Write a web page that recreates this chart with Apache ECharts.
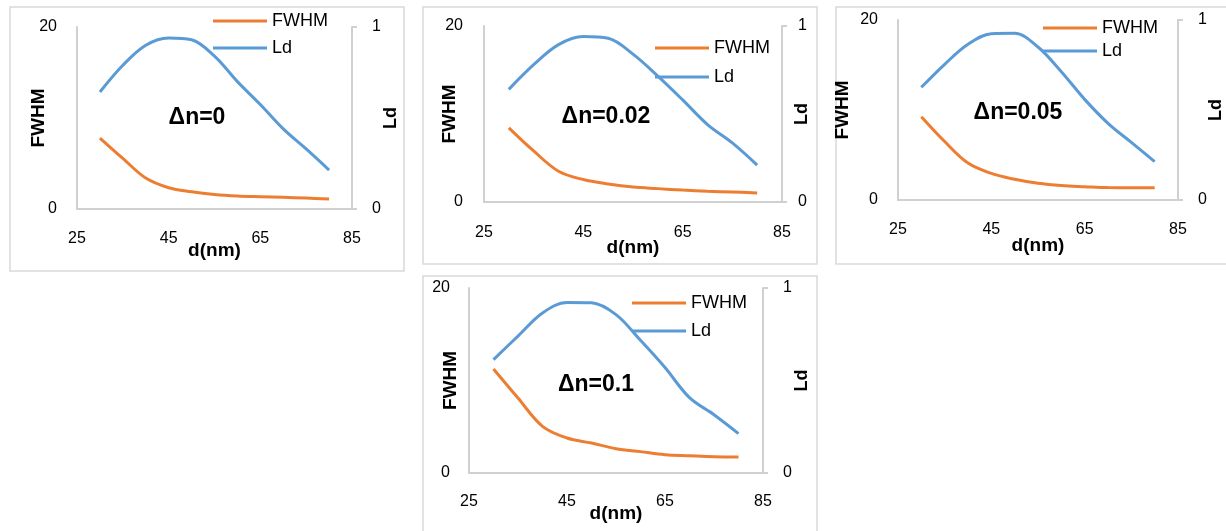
<!DOCTYPE html>
<html><head><meta charset="utf-8">
<script src="https://cdn.jsdelivr.net/npm/echarts@6/dist/echarts.min.js"></script>
<style>html,body{margin:0;padding:0;background:#fff}#c{width:1226px;height:531px}</style>
</head><body><div id="c"></div>
<script>
// ---- data ----
const dValues = [30, 35, 40, 45, 50, 55, 60, 65, 70, 75, 80];
const xTicks = [25, 45, 65, 85];
const panelLabels = ['Δn=0', 'Δn=0.02', 'Δn=0.05', 'Δn=0.1'];
const fwhm_dn0   = [7.8, 5.56, 3.4, 2.34, 1.9, 1.6, 1.43, 1.35, 1.28, 1.2, 1.1];
const ld_dn0     = [0.643, 0.79, 0.90, 0.94, 0.93, 0.84, 0.70, 0.574, 0.44, 0.33, 0.214];
const fwhm_dn002 = [8.43, 5.8, 3.5, 2.55, 2.05, 1.7, 1.52, 1.35, 1.22, 1.14, 1.03];
const ld_dn002   = [0.64, 0.78, 0.894, 0.94, 0.93, 0.84, 0.715, 0.58, 0.44, 0.336, 0.21];
const fwhm_dn005 = [9.26, 6.5, 4.1, 2.95, 2.3, 1.85, 1.6, 1.48, 1.38, 1.37, 1.37];
const ld_dn005   = [0.626, 0.754, 0.865, 0.924, 0.926, 0.85, 0.713, 0.559, 0.426, 0.32, 0.213];
const fwhm_dn01  = [11.24, 8.1, 5.05, 3.78, 3.24, 2.63, 2.31, 1.98, 1.87, 1.77, 1.73];
const ld_dn01    = [0.613, 0.74, 0.865, 0.922, 0.92, 0.856, 0.717, 0.57, 0.407, 0.315, 0.213];
const fwhmSets = [fwhm_dn0, fwhm_dn002, fwhm_dn005, fwhm_dn01];
const ldSets = [ld_dn0, ld_dn002, ld_dn005, ld_dn01];

// ---- layout ----
const FONT = 'Liberation Sans, Arial, sans-serif';
const ORANGE = '#ED7D31', BLUE = '#5B9BD5', AXIS = '#d0d0d0', BORDER = '#d9d9d9';
const panels = [
  {box:[10,7,394,264],  plot:[77,27,352,209],  xl:22, xn:32, yn:29, rn:30, rm:20, lm:20, leg:[213,12], lg:9,  ann:[197,118]},
  {box:[423,7,394,257], plot:[484,26,782,202], xl:23, xn:36, yn:25, rn:11, rm:16, lm:21, leg:[655,39], lg:11, ann:[606,117]},
  {box:[836,7,400,257], plot:[898,20,1178,200],xl:22, xn:36, yn:46, rn:29, rm:20, lm:20, leg:[1043,19],lg:5,  ann:[1018,113]},
  {box:[423,276,394,270],plot:[469,288,763,473],xl:21, xn:31, yn:9,  rn:30, rm:20, lm:19, leg:[632,294],lg:10, ann:[596,385]}
];

const grid = [], xAxis = [], yAxis = [], series = [], legend = [], graphic = [];
panels.forEach((p, i) => {
  const [l, t, r, b] = p.plot;
  grid.push({left: l, top: t, width: r - l, height: b - t, containLabel: false});
  xAxis.push({type: 'value', gridIndex: i, min: 25, max: 85, interval: 20,
    name: 'd(nm)', nameLocation: 'middle', nameGap: p.xn, nameMoveOverlap: false,
    nameTextStyle: {fontFamily: FONT, fontWeight: 'bold', fontSize: 19, color: '#000', verticalAlign: 'top'},
    axisLine: {show: true, lineStyle: {color: AXIS, width: 2}}, axisTick: {show: false}, splitLine: {show: false},
    axisLabel: {margin: p.xl, fontFamily: FONT, fontSize: 16, color: '#000',
      formatter: v => xTicks.includes(v) ? String(v) : ''}});
  yAxis.push({type: 'value', gridIndex: i, position: 'left', min: 0, max: 20, interval: 20,
    name: 'FWHM', nameLocation: 'middle', nameRotate: 90, nameGap: p.yn, nameMoveOverlap: false,
    nameTextStyle: {fontFamily: FONT, fontWeight: 'bold', fontSize: 19, color: '#000'},
    axisLine: {show: true, lineStyle: {color: AXIS, width: 2}}, axisTick: {show: false}, splitLine: {show: false},
    axisLabel: {margin: p.lm, fontFamily: FONT, fontSize: 16, color: '#000'}});
  yAxis.push({type: 'value', gridIndex: i, position: 'right', min: 0, max: 1, interval: 1,
    name: 'Ld', nameLocation: 'middle', nameRotate: 90, nameGap: p.rn, nameMoveOverlap: false,
    nameTextStyle: {fontFamily: FONT, fontWeight: 'bold', fontSize: 18, color: '#000'},
    axisLine: {show: true, lineStyle: {color: AXIS, width: 2}},
    axisTick: {show: true, length: 5, lineStyle: {color: AXIS, width: 2}}, splitLine: {show: false},
    axisLabel: {margin: p.rm, fontFamily: FONT, fontSize: 16, color: '#000'}});
  series.push({name: 'FWHM', type: 'line', xAxisIndex: i, yAxisIndex: 2 * i, smooth: 0.35,
    symbol: 'none', lineStyle: {color: ORANGE, width: 3}, itemStyle: {color: ORANGE},
    data: dValues.map((d, k) => [d, fwhmSets[i][k]])});
  series.push({name: 'Ld', type: 'line', xAxisIndex: i, yAxisIndex: 2 * i + 1, smooth: 0.35,
    symbol: 'none', lineStyle: {color: BLUE, width: 3}, itemStyle: {color: BLUE},
    data: dValues.map((d, k) => [d, ldSets[i][k]])});
  legend.push({orient: 'vertical', left: p.leg[0], top: p.leg[1], itemGap: p.lg, padding: 0,
    itemWidth: 54, itemHeight: 3, icon: 'rect', selectedMode: false,
    textStyle: {fontFamily: FONT, fontSize: 18, color: '#000'},
    data: ['FWHM', 'Ld']});
  graphic.push({type: 'rect', silent: true, z: -1,
    shape: {x: p.box[0], y: p.box[1], width: p.box[2], height: p.box[3]},
    style: {fill: 'none', stroke: BORDER, lineWidth: 1.5}});
  graphic.push({type: 'text', silent: true, x: p.ann[0], y: p.ann[1],
    style: {text: panelLabels[i], fontFamily: FONT, fontWeight: 'bold', fontSize: 23, fill: '#000',
      align: 'center', verticalAlign: 'middle'}});
});

const chart = echarts.init(document.getElementById('c'), null, {renderer: 'canvas'});
chart.setOption({animation: false, backgroundColor: '#fff', grid, xAxis, yAxis, series, legend, graphic});
</script></body></html>
